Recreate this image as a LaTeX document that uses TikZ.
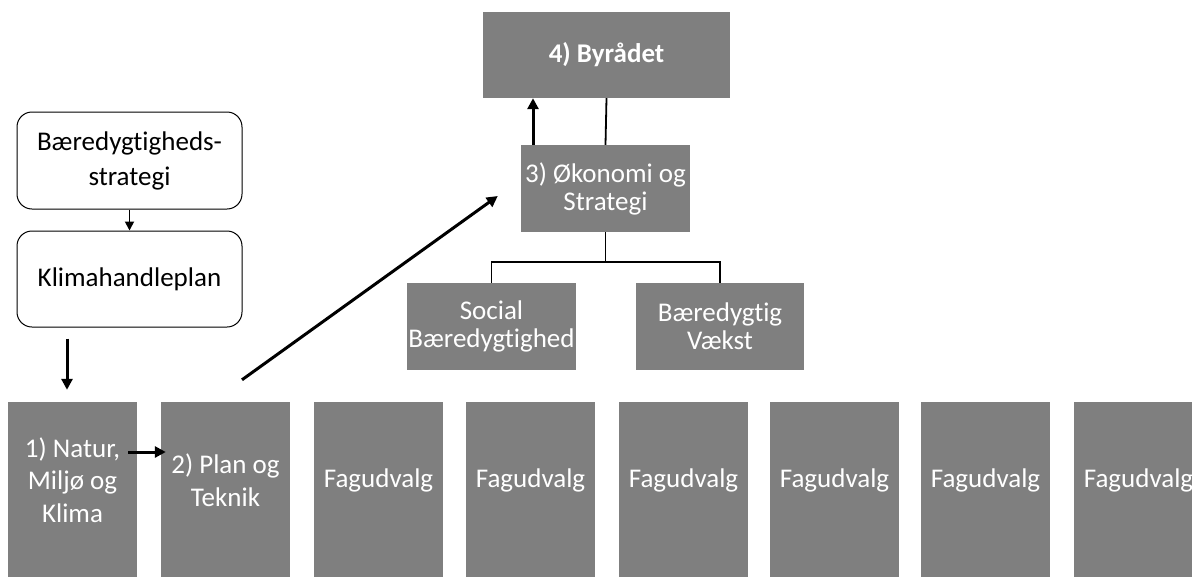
\documentclass[tikz,border=0pt]{standalone}
\usepackage{fontspec}
\setmainfont{Carlito}[Ligatures={NoCommon}]
\usetikzlibrary{arrows.meta,calc}
\begin{document}
\begin{tikzpicture}[x=1pt,y=-1pt,
  greybox/.style={fill=gray50, draw=none, text=white, align=center, inner sep=0pt, font=\fontsize{27}{28}\selectfont},
  bottombox/.style={greybox, minimum width=129pt, minimum height=156pt, font=\fontsize{27}{32.5}\selectfont},
  roundbox/.style={draw=black, line width=1pt, rounded corners=15pt, fill=white, align=center, inner sep=0pt, font=\fontsize{27}{35}\selectfont},
  link/.style={draw=black, line width=1.8pt},
  thinarrow/.style={draw=black, line width=1.8pt, -{Triangle[length=9pt,width=9pt]}},
  thickarrow/.style={draw=black, line width=3pt, -{Triangle[length=11pt,width=11pt]}}
]
\definecolor{gray50}{HTML}{7F7F7F}
\useasboundingbox (0,0) rectangle (1192,576);
\begin{scope}
\clip (0,0) rectangle (1192,576);
% top hierarchy
\node[greybox, minimum width=247pt, minimum height=86pt, font=\fontsize{27}{32.5}\selectfont\bfseries] (byr) at (606.5,55) {4) Byrådet};
\node[greybox, minimum width=169pt, minimum height=87pt] (oek) at (605.5,188.5) {3) Økonomi og\\Strategi};
\node[greybox, minimum width=169pt, minimum height=87pt] (soc) at (491.5,326.5) {Social\\Bæredygtighed};
\node[greybox, minimum width=168pt, minimum height=87pt] (vaek) at (720,326.5) {Bæredygtig\\Vækst};
% left rounded boxes
\node[roundbox, minimum width=225pt, minimum height=97pt] (bs) at (129.5,160.5) {Bæredygtigheds-\\strategi};
\node[roundbox, minimum width=225pt, minimum height=96pt] (kl) at (129.5,279) {Klimahandleplan};
% bottom row (boxes run past the lower edge)
\foreach \cx in {72.5,225.5,378.5,530.5,683.5,834.5,985.5,1138.5}
  \fill[gray50] (\cx-64.5,550) rectangle (\cx+64.5,580);
\node[bottombox] (b1) at (72.5,480) {1) Natur,\\Miljø og\\Klima};
\node[bottombox] (b2) at (225.5,480) {2) Plan og\\Teknik};
\node[bottombox] (b3) at (378.5,480) {Fagudvalg};
\node[bottombox] (b4) at (530.5,480) {Fagudvalg};
\node[bottombox] (b5) at (683.5,480) {Fagudvalg};
\node[bottombox] (b6) at (834.5,480) {Fagudvalg};
\node[bottombox] (b7) at (985.5,480) {Fagudvalg};
\node[bottombox] (b8) at (1138.5,480) {Fagudvalg};
\end{scope}
% connectors
\draw[link] (oek.north) -- (byr.south);
\draw[link] (oek.south) -- ++(0,30) coordinate (junc);
\draw[link] (soc.north) |- (junc) -| (vaek.north);
\draw[thickarrow] ([xshift=-72.5pt]oek.north) -- ([xshift=-73.5pt]byr.south);
\draw[thinarrow] (bs.south) -- (kl.north);
\coordinate (ka) at ([xshift=-62.5pt,yshift=-11pt]kl.south);
\coordinate (kb) at ([xshift=-5.5pt,yshift=12pt]b1.north);
\draw[thickarrow] (ka) -- (kb);
\coordinate (na) at ([xshift=-9pt,yshift=28pt]b1.east);
\coordinate (nb) at ([xshift=5pt,yshift=28pt]b2.west);
\draw[thickarrow] (na) -- (nb);
\coordinate (da) at ([xshift=16.5pt,yshift=22pt]b2.north);
\coordinate (db) at ([xshift=-23pt,yshift=-7.5pt]oek.west);
\draw[thickarrow] (da) -- (db);
\end{tikzpicture}
\end{document}
